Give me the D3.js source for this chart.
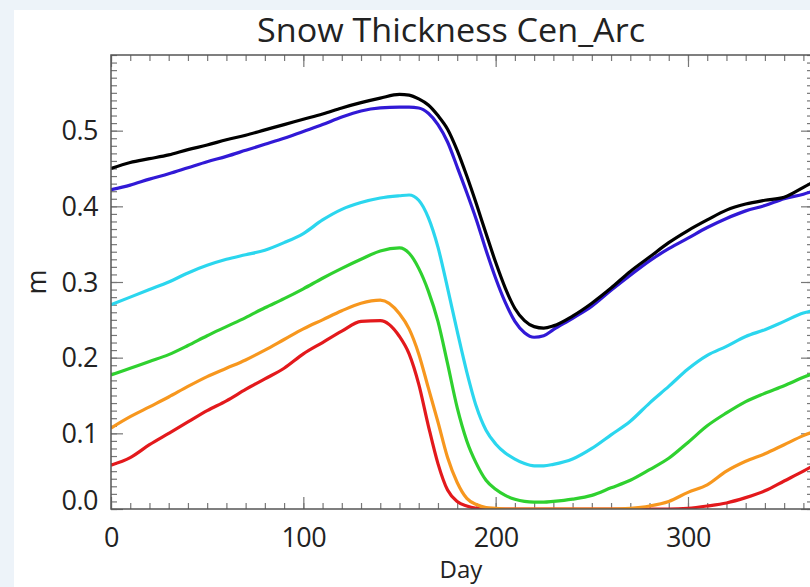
<!DOCTYPE html>
<html><head><meta charset="utf-8">
<script src="https://cdn.jsdelivr.net/npm/d3@7/dist/d3.min.js"></script>
<style>
html,body{margin:0;padding:0;background:#edf3f9;}
svg{display:block;}
text{font-family:"Open Sans","Noto Sans",sans-serif;fill:#222;}
</style></head>
<body><svg id="c" width="810" height="587"></svg>
<script>
const days = [0,10,20,30,40,50,60,70,80,90,100,110,120,130,140,150,155,160,165,170,175,180,185,190,195,200,205,210,215,220,225,230,240,250,260,270,280,290,300,310,320,330,340,350,360,365];
const black = [0.450,0.458,0.463,0.468,0.475,0.481,0.488,0.494,0.501,0.508,0.515,0.522,0.530,0.537,0.543,0.548,0.547,0.542,0.534,0.520,0.502,0.474,0.440,0.403,0.364,0.326,0.292,0.265,0.249,0.241,0.239,0.242,0.255,0.272,0.292,0.314,0.333,0.352,0.368,0.382,0.395,0.403,0.408,0.412,0.425,0.432];
const blue = [0.422,0.428,0.436,0.443,0.451,0.459,0.466,0.474,0.482,0.490,0.499,0.508,0.518,0.526,0.530,0.531,0.531,0.530,0.523,0.508,0.485,0.452,0.418,0.382,0.342,0.305,0.273,0.248,0.233,0.227,0.229,0.237,0.252,0.268,0.289,0.309,0.328,0.344,0.358,0.372,0.384,0.394,0.401,0.410,0.416,0.420];
const cyan = [0.270,0.280,0.290,0.300,0.312,0.322,0.330,0.336,0.342,0.352,0.364,0.382,0.396,0.405,0.411,0.414,0.415,0.408,0.385,0.346,0.292,0.235,0.181,0.135,0.104,0.086,0.074,0.066,0.060,0.057,0.057,0.059,0.066,0.080,0.098,0.116,0.140,0.162,0.185,0.203,0.215,0.228,0.237,0.248,0.259,0.262];
const green = [0.177,0.186,0.195,0.204,0.216,0.229,0.241,0.253,0.266,0.278,0.291,0.305,0.318,0.330,0.341,0.345,0.338,0.318,0.288,0.248,0.192,0.134,0.090,0.060,0.038,0.026,0.018,0.013,0.010,0.009,0.009,0.010,0.013,0.018,0.028,0.038,0.052,0.067,0.088,0.110,0.127,0.142,0.153,0.163,0.174,0.179];
const orange = [0.107,0.122,0.135,0.148,0.162,0.175,0.186,0.197,0.210,0.224,0.238,0.250,0.262,0.272,0.276,0.258,0.238,0.205,0.160,0.115,0.068,0.035,0.014,0.006,0.002,0.001,0.000,0.000,0.000,0.000,0.000,0.000,0.000,0.000,0.000,0.001,0.004,0.010,0.022,0.032,0.050,0.063,0.073,0.085,0.097,0.102];
const red = [0.058,0.068,0.085,0.100,0.115,0.130,0.143,0.158,0.172,0.186,0.205,0.220,0.235,0.248,0.249,0.228,0.205,0.165,0.110,0.060,0.025,0.010,0.004,0.001,0.000,0.000,0.000,0.000,0.000,0.000,0.000,0.000,0.000,0.000,0.000,0.000,0.000,0.000,0.001,0.004,0.008,0.015,0.024,0.037,0.050,0.057];
const seriesNames = ["black","blue","cyan","green","orange","red"];
const seriesColors = ["#000000","#3119d6","#2bd6ee","#2fd12f","#f7971e","#e3191c"];
const seriesValues = [black,blue,cyan,green,orange,red];
const xTicks = [0,100,200,300];
const yTicks = [0.0,0.1,0.2,0.3,0.4,0.5];
const title = "Snow Thickness Cen_Arc";
const xLabel = "Day";
const yLabel = "m";

const svg = d3.select("#c");
svg.append("rect").attr("x",14).attr("y",10).attr("width",796).attr("height",577).attr("fill","#fff");

const L=111, R=813, T=55, B=509;
const x = d3.scaleLinear().domain([0,365]).range([L,R]);
const y = d3.scaleLinear().domain([0,0.6]).range([B,T]);

const tickColor="#777";
function styleAxis(g){ g.select(".domain").remove(); g.selectAll("line").attr("stroke",tickColor).attr("stroke-width",1.2); }

const xMinor = d3.range(0,366,10);
const yMinor = d3.range(0,0.6001,0.01);
svg.append("g").attr("transform",`translate(0,${B})`).call(d3.axisBottom(x).tickValues(xMinor).tickSize(-6).tickFormat("")).call(styleAxis);
svg.append("g").attr("transform",`translate(0,${T})`).call(d3.axisTop(x).tickValues(xMinor).tickSize(-6).tickFormat("")).call(styleAxis);
svg.append("g").attr("transform",`translate(${L},0)`).call(d3.axisLeft(y).tickValues(yMinor).tickSize(-6).tickFormat("")).call(styleAxis);
svg.append("g").attr("transform",`translate(${R},0)`).call(d3.axisRight(y).tickValues(yMinor).tickSize(-6).tickFormat("")).call(styleAxis);
const xAx = svg.append("g").attr("transform",`translate(0,${B})`).call(d3.axisBottom(x).tickValues(xTicks).tickSize(-12).tickPadding(19).tickFormat(d3.format("d"))).call(styleAxis);
svg.append("g").attr("transform",`translate(0,${T})`).call(d3.axisTop(x).tickValues(xTicks).tickSize(-12).tickFormat("")).call(styleAxis);
const yAx = svg.append("g").attr("transform",`translate(${L},0)`).call(d3.axisLeft(y).tickValues(yTicks).tickSize(-12).tickPadding(13).tickFormat(d3.format(".1f"))).call(styleAxis);
svg.append("g").attr("transform",`translate(${R},0)`).call(d3.axisRight(y).tickValues(yTicks).tickSize(-12).tickFormat("")).call(styleAxis);
xAx.selectAll("text").attr("font-size",27).attr("fill","#222").attr("font-family","Open Sans").attr("letter-spacing","-0.5");
yAx.selectAll("text").attr("font-size",27).attr("fill","#222").attr("font-family","Open Sans").attr("letter-spacing","-0.5")
   .attr("dy", d => d===0 ? "0.0em" : "0.34em");

const line = d3.line().x((d,i)=>x(days[i])).y(d=>y(d)).curve(d3.curveMonotoneX);
svg.append("clipPath").attr("id","clip").append("rect").attr("x",L).attr("y",T-5).attr("width",R-L).attr("height",B-T+5);
const gl = svg.append("g").attr("clip-path","url(#clip)");
for (let k=seriesValues.length-1;k>=0;k--){
  gl.append("path").datum(seriesValues[k]).attr("d",line).attr("fill","none")
    .attr("stroke",seriesColors[k]).attr("stroke-width",3.2).attr("stroke-linejoin","round");
}

svg.append("rect").attr("x",L).attr("y",T).attr("width",R-L).attr("height",B-T)
  .attr("fill","none").attr("stroke","#555").attr("stroke-width",1.5);

svg.append("text").attr("x",451).attr("y",42).attr("text-anchor","middle").attr("font-size",33)
  .attr("textLength",388).attr("lengthAdjust","spacingAndGlyphs").text(title);
svg.append("text").attr("x",461).attr("y",578).attr("text-anchor","middle").attr("font-size",24).text(xLabel);
svg.append("text").attr("transform","translate(46,282) rotate(-90)").attr("text-anchor","middle").attr("font-size",27).text(yLabel);
</script></body></html>
